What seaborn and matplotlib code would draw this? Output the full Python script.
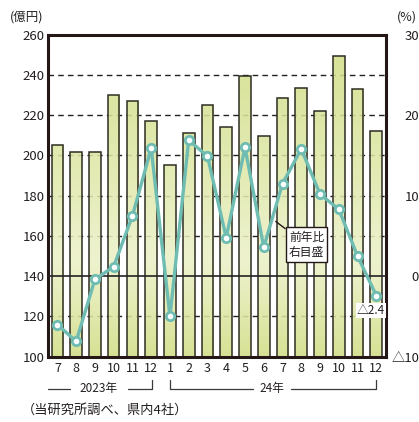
import numpy as np
import pandas as pd
import matplotlib
matplotlib.use("Agg")
import matplotlib.pyplot as plt
import matplotlib.transforms as mtransforms
from matplotlib.colors import LinearSegmentedColormap
import seaborn as sns

# Monthly sales (億円) and year-on-year change (%), Jul 2023 – Dec 2024
periods = ["2023-07", "2023-08", "2023-09", "2023-10", "2023-11", "2023-12",
           "2024-01", "2024-02", "2024-03", "2024-04", "2024-05", "2024-06",
           "2024-07", "2024-08", "2024-09", "2024-10", "2024-11", "2024-12"]
month_labels = ["7", "8", "9", "10", "11", "12",
                "1", "2", "3", "4", "5", "6", "7", "8", "9", "10", "11", "12"]
sales = [205, 201.5, 201.5, 230, 227, 217,
         195.5, 211, 225, 214, 239.5, 209.5, 228.5, 233.5, 222, 249.5, 233, 212]
yoy = [-6.0, -8.1, -0.4, 1.2, 7.5, 15.9,
       -5.0, 16.9, 14.9, 4.8, 16.0, 3.6, 11.5, 15.8, 10.2, 8.3, 2.5, -2.4]
left_ticks = [100, 120, 140, 160, 180, 200, 220, 240, 260]
right_ticks = [-10, 0, 10, 20, 30]
right_tick_labels = ["△10", "0", "10", "20", "30"]

df = pd.DataFrame({"period": periods, "sales": sales, "yoy": yoy})

sns.set_style("white")
plt.rcParams["font.family"] = ["Noto Sans CJK JP", "DejaVu Sans"]
TXT = "#231f20"
TEAL = "#6fbdb2"

fig = plt.figure(figsize=(4.19, 4.22), dpi=100)
ax = fig.add_axes([0.1146, 0.1547, 0.8059, 0.7631])

# dashed reference lines behind the bars
for v in [120, 160, 180, 200, 220, 240]:
    ax.axhline(v, color="#222222", lw=1.0, ls=(0, (4, 3)), zorder=0.5)

sns.barplot(data=df, x="period", y="sales", order=periods, ax=ax,
            color="#d8e294", edgecolor="#2e2c22", linewidth=1.1,
            width=0.62, saturation=1, zorder=2)

ax.set_ylim(100, 260)
ax.set_xlim(-0.5, len(periods) - 0.5)

# vertical gradient fill for every bar, clipped to the bar outline
cmap = LinearSegmentedColormap.from_list(
    "bar", [(0.0, "#d1dd84"), (0.30, "#ecf1c8"), (0.55, "#e0e9ab"), (1.0, "#d0dc82")])
grad = np.linspace(0, 1, 256).reshape(-1, 1)
for p in ax.patches:
    p.set_facecolor("none")
    p.set_zorder(2.5)
    x0, w = p.get_x(), p.get_width()
    im = ax.imshow(grad, cmap=cmap, aspect="auto", origin="lower",
                   extent=[x0, x0 + w, 100, 260], alpha=0.87, zorder=1.5,
                   interpolation="bilinear")
    im.set_clip_path(p)
ax.set_xlim(-0.5, len(periods) - 0.5)
ax.set_ylim(100, 260)

# zero line of the right scale
ax.axhline(140, color="#222222", lw=1.2, zorder=3)

ax.set_yticks(left_ticks)
ax.set_yticklabels([str(t) for t in left_ticks])
ax.set_xticks(range(len(periods)))
ax.set_xticklabels(month_labels)
ax.tick_params(axis="y", length=0, pad=2.5, labelsize=9.5, colors=TXT)
ax.tick_params(axis="x", length=0, pad=4, labelsize=9, colors=TXT)
ax.set_xlabel("")
ax.set_ylabel("")
for s in ax.spines.values():
    s.set_linewidth(2.2)
    s.set_color("#231815")

# year-on-year line on the right-hand scale
ax2 = ax.twinx()
ax2.set_ylim(-10, 30)
sns.lineplot(x=np.arange(len(periods)), y=df["yoy"], ax=ax2, color=TEAL,
             lw=2.4, marker="o", markersize=6, markerfacecolor="white",
             markeredgecolor=TEAL, markeredgewidth=2.0, zorder=5)
ax2.set_yticks(right_ticks)
ax2.set_yticklabels(right_tick_labels)
ax2.tick_params(axis="y", length=0, pad=24, labelsize=9.5, colors=TXT)
for lab in ax2.get_yticklabels():
    lab.set_horizontalalignment("right")
ax2.set_ylabel("")
for s in ax2.spines.values():
    s.set_visible(False)
ax2.set_xlim(-0.5, len(periods) - 0.5)

# callout for the line
ax2.annotate("前年比\n右目盛", xy=(11.64, 6.8), xytext=(13.28, 3.9),
             ha="center", va="center", fontsize=8.5, color=TXT, linespacing=1.25,
             bbox=dict(boxstyle="square,pad=0.28", fc="white", ec="#231815", lw=1.0),
             arrowprops=dict(arrowstyle="-", color="#231815", lw=1.0,
                             shrinkA=0, shrinkB=0),
             zorder=7)
ax2.text(16.71, -4.3, "△2.4", ha="center", va="center", fontsize=8.5, color=TXT,
         bbox=dict(boxstyle="square,pad=0.08", fc="white", ec="none"), zorder=7)

# axis unit labels
fig.text(10 / 419, 1 - 17 / 422, "(億円)", ha="left", va="center", fontsize=9, color=TXT)
fig.text(417 / 419, 1 - 17 / 422, "(%)", ha="right", va="center", fontsize=9, color=TXT)

# year brackets under the month labels
tr = mtransforms.blended_transform_factory(ax.transData, ax.transAxes)
yl, yt = -0.10, -0.073
kw = dict(color="#3a3a3a", lw=0.9, transform=tr, clip_on=False)
ax.plot([-0.5, 0.65], [yl, yl], **kw)
ax.plot([3.75, 5.03, 5.03], [yl, yl, yt], **kw)
ax.text(2.2, yl, "2023年", transform=tr, ha="center", va="center",
        fontsize=8.5, color=TXT)
ax.plot([6.0, 6.0, 10.45], [yt, yl, yl], **kw)
ax.plot([12.45, 17.0, 17.0], [yl, yl, yt], **kw)
ax.text(11.45, yl, "24年", transform=tr, ha="center", va="center",
        fontsize=8.5, color=TXT)

# source note
fig.text(22 / 419, 1 - 410 / 422, "（当研究所調べ、県内4社）", ha="left", va="center",
         fontsize=9.5, color=TXT)

fig.savefig("out.png", dpi=100)
